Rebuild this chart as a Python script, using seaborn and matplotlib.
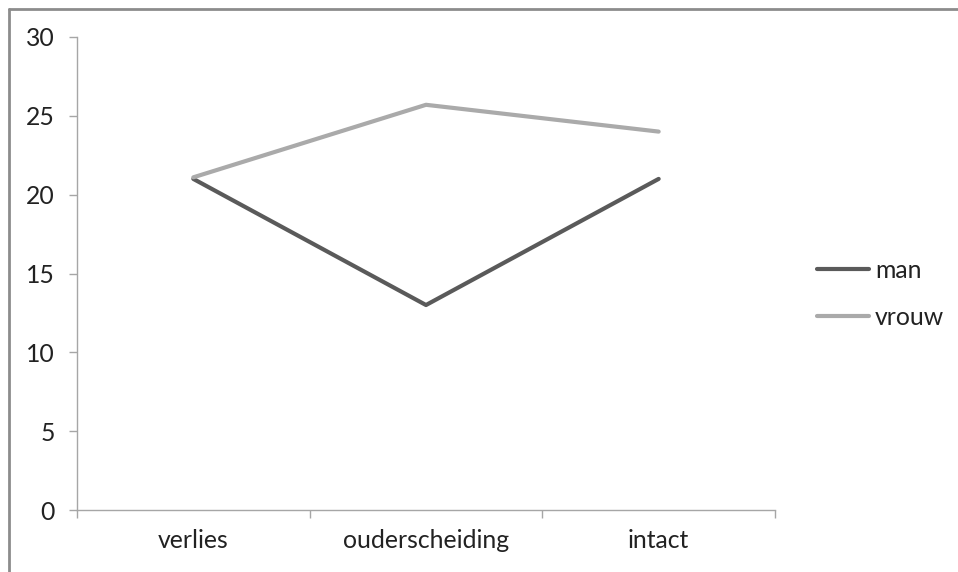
import pandas as pd
import matplotlib
matplotlib.use("Agg")
import matplotlib.pyplot as plt
import seaborn as sns
from matplotlib.lines import Line2D

# Data
categories = ["verlies", "ouderscheiding", "intact"]
man = [21, 13, 21]
vrouw = [21.1, 25.7, 24]

df = pd.DataFrame({
    "groep": categories * 2,
    "waarde": man + vrouw,
    "geslacht": ["man"] * 3 + ["vrouw"] * 3,
})
df["pos"] = df["groep"].map({c: i for i, c in enumerate(categories)})

sns.set_style("white")
plt.rcParams["font.family"] = ["Lato", "DejaVu Sans"]

fig = plt.figure(figsize=(9.58, 5.72), dpi=100)
ax = fig.add_axes([77 / 958, 1 - 510 / 572, 698 / 958, 473 / 572])

palette = {"man": "#5a5a5a", "vrouw": "#aaaaaa"}
sns.lineplot(data=df, x="pos", y="waarde", hue="geslacht", palette=palette,
             linewidth=3, ax=ax, legend=False, solid_capstyle="round")

ax.set_xlim(-0.5, 2.5)
ax.set_ylim(0, 30)
ax.set_yticks(range(0, 31, 5))
ax.set_xticks(range(3))
ax.set_xticklabels(categories)
ax.set_xticks([-0.5, 0.5, 1.5, 2.5], minor=True)
ax.set_xlabel("")
ax.set_ylabel("")

spine_col = "#a6a6a6"
for s in ["top", "right"]:
    ax.spines[s].set_visible(False)
for s in ["left", "bottom"]:
    ax.spines[s].set_color(spine_col)
    ax.spines[s].set_linewidth(1)

fs = 17.8
ax.tick_params(axis="y", which="major", left=True, length=6, width=1,
               color=spine_col, labelsize=fs, pad=10, labelcolor="#222222")
ax.tick_params(axis="x", which="major", bottom=False, length=0,
               labelsize=fs, pad=14, labelcolor="#222222")
ax.tick_params(axis="x", which="minor", bottom=True, length=6, width=1,
               color=spine_col)

handles = [Line2D([0], [0], color=palette[k], lw=3, solid_capstyle="round")
           for k in ["man", "vrouw"]]
leg = ax.legend(handles, ["man", "vrouw"], loc="center left",
                bbox_to_anchor=(1.028, 0.457), frameon=False, fontsize=fs,
                handlelength=2.1, handletextpad=0.25, labelspacing=0.95)
for t in leg.get_texts():
    t.set_color("#222222")

# outer chart border (Excel-style chart area)
fig.add_artist(Line2D([8.5 / 958, 8.5 / 958], [0, 1 - 8.5 / 572],
                      transform=fig.transFigure, color="#8c8c8c", lw=2))
fig.add_artist(Line2D([8.5 / 958, 1], [1 - 8.5 / 572, 1 - 8.5 / 572],
                      transform=fig.transFigure, color="#8c8c8c", lw=2))

fig.savefig("out.png", dpi=100)
